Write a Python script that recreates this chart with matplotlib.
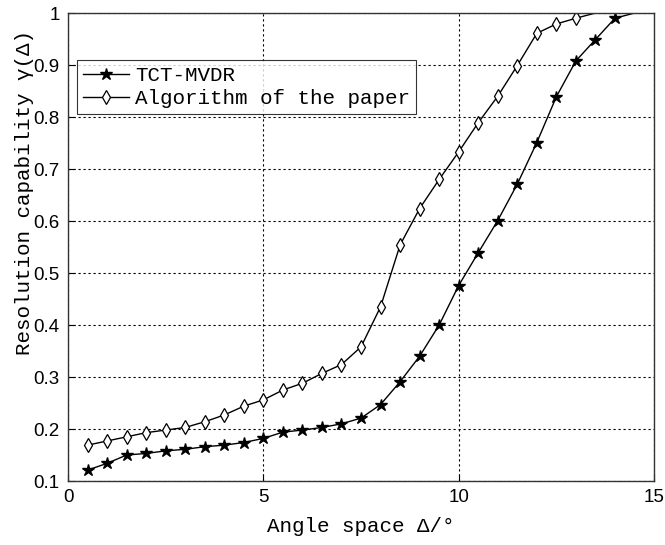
import numpy as np
import matplotlib
matplotlib.use('Agg')
import matplotlib.pyplot as plt

# angle spacing (deg)
delta = [0.5, 1, 1.5, 2, 2.5, 3, 3.5, 4, 4.5, 5, 5.5, 6, 6.5, 7, 7.5, 8,
         8.5, 9, 9.5, 10, 10.5, 11, 11.5, 12, 12.5, 13, 13.5, 14, 14.5]

tct_mvdr = [0.121, 0.134, 0.150, 0.153, 0.158, 0.161, 0.166, 0.169, 0.174, 0.182,
            0.194, 0.198, 0.203, 0.210, 0.221, 0.247, 0.291, 0.340, 0.400, 0.476,
            0.539, 0.601, 0.671, 0.751, 0.839, 0.908, 0.949, 0.990, 1.0]

proposed = [0.169, 0.177, 0.185, 0.193, 0.198, 0.203, 0.214, 0.227, 0.244, 0.256,
            0.275, 0.288, 0.307, 0.324, 0.358, 0.435, 0.554, 0.624, 0.680, 0.733,
            0.789, 0.840, 0.899, 0.961, 0.979, 0.990, 1.0]

xticks = [0, 5, 10, 15]
yticks = [0.1, 0.2, 0.3, 0.4, 0.5, 0.6, 0.7, 0.8, 0.9, 1]
ytick_labels = ['0.1', '0.2', '0.3', '0.4', '0.5', '0.6', '0.7', '0.8', '0.9', '1']

label_font = ['Liberation Mono', 'DejaVu Sans']

fig = plt.figure(figsize=(6.65, 5.45), dpi=100)
ax = fig.add_axes([0.1023, 0.1174, 0.8812, 0.8587])

# markers at y = 1 are hidden behind the top of the box in the original
mk1 = [i for i, v in enumerate(tct_mvdr) if v < 1]
mk2 = [i for i, v in enumerate(proposed) if v < 1]

ax.plot(delta, tct_mvdr, color='k', lw=1.0, marker='*', ms=9,
        mfc='k', mec='k', markevery=mk1, label='TCT-MVDR')
ax.plot(delta[:len(proposed)], proposed, color='k', lw=1.0, marker='d', ms=7,
        mfc='white', mec='k', mew=0.9, markevery=mk2,
        label='Algorithm of the paper')

ax.set_xlim(0, 15)
ax.set_ylim(0.1, 1)
ax.set_xticks(xticks)
ax.set_yticks(yticks)
ax.set_yticklabels(ytick_labels)
ax.tick_params(direction='in', length=5, width=0.8, labelsize=13.5, pad=6)
for lab in ax.get_xticklabels() + ax.get_yticklabels():
    lab.set_family('Liberation Sans')
ax.grid(True, color='k', linestyle=(0, (2, 2.5)), linewidth=0.8)
for s in ax.spines.values():
    s.set_linewidth(1.0)
    s.set_color('#333333')

ax.set_xlabel('Angle space Δ/°', family=label_font, fontsize=15, labelpad=8)
ax.set_ylabel('Resolution capability γ(Δ)', family=label_font, fontsize=15)
ax.yaxis.set_label_coords(-0.058, 0.617)

leg = ax.legend(loc='upper left', bbox_to_anchor=(0.0145, 0.9), prop={'family': label_font, 'size': 15},
                frameon=True, fancybox=False, edgecolor='k', borderpad=0.3,
                labelspacing=0.2, handlelength=2.2, handletextpad=0.3, borderaxespad=0)
leg.get_frame().set_linewidth(0.8)

fig.savefig('out.png', dpi=100)
